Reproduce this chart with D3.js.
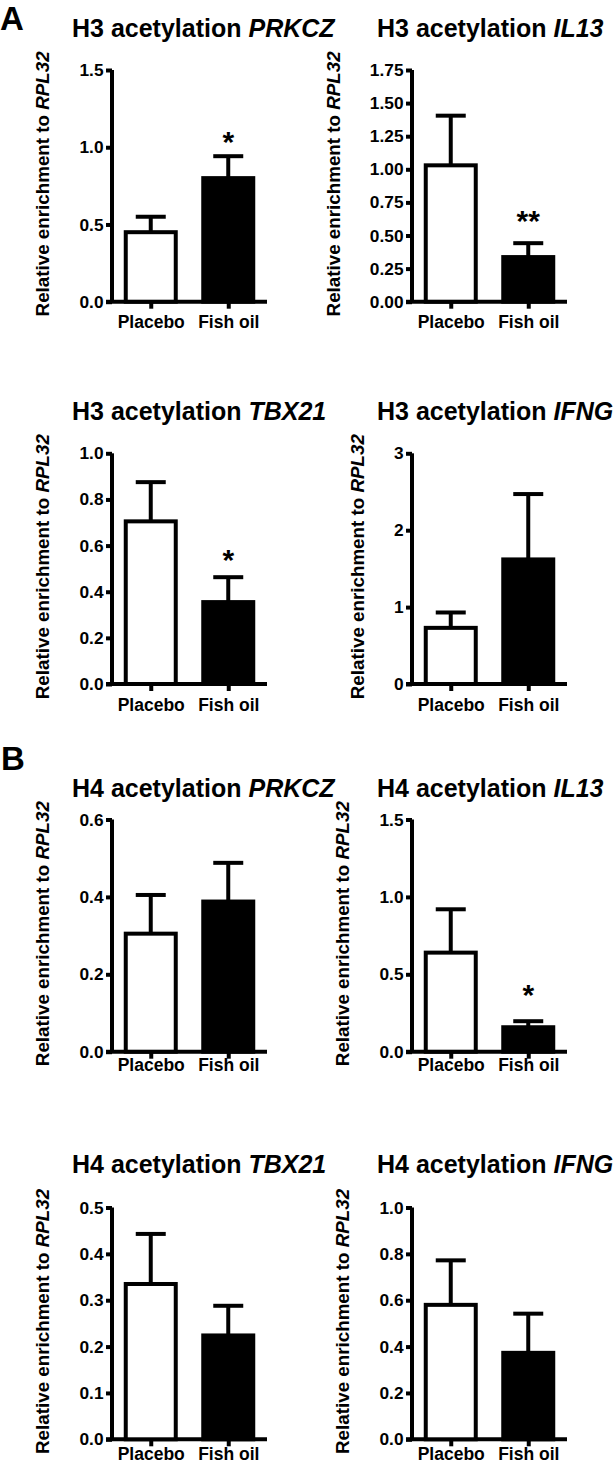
<!DOCTYPE html>
<html>
<head>
<meta charset="utf-8">
<script src="https://cdn.jsdelivr.net/npm/d3@7"></script>
<style>
  html, body { margin: 0; padding: 0; background: #fff; }
  svg { display: block; }
  text { font-family: Arial, "Liberation Sans", Helvetica, sans-serif; font-weight: bold; fill: #000; }
</style>
</head>
<body>
<script>
// ---------- data ----------
const groups = ["Placebo", "Fish oil"];
const histones = ["H3", "H3", "H3", "H3", "H4", "H4", "H4", "H4"];
const genes = ["PRKCZ", "IL13", "TBX21", "IFNG", "PRKCZ", "IL13", "TBX21", "IFNG"];
const placeboMean = [0.45, 1.03, 0.705, 0.73, 0.305, 0.64, 0.335, 0.58];
const placeboSEM  = [0.10, 0.375, 0.17, 0.20, 0.10, 0.28, 0.108, 0.192];
const fishOilMean = [0.80, 0.337, 0.355, 1.62, 0.388, 0.158, 0.224, 0.373];
const fishOilSEM  = [0.142, 0.105, 0.108, 0.85, 0.10, 0.039, 0.064, 0.169];
const yMax   = [1.5, 1.75, 1.0, 3, 0.6, 1.5, 0.5, 1.0];
const yStep  = [0.5, 0.25, 0.2, 1, 0.2, 0.5, 0.1, 0.2];
const yDecimals = [1, 2, 1, 0, 1, 1, 1, 1];
const sigLabel = ["*", "**", "*", "", "", "*", "", ""];
const sigValue = [1.08, 0.664, 0.568, null, null, 0.41, null, null];
const sectionLetters = ["A", "B"];
const yTitlePrefix = "Relative enrichment to ";
const yTitleGene = "RPL32";

// ---------- layout ----------
const W = 613, H = 1465;
const colAxisX = [112, 412];
const colTitleX = [72, 377];
const rowTop = [70, 453.3, 819.5, 1207.5];
const rowBottom = [301.7, 684, 1051.7, 1439.3];
const rowTitleY = [37, 420, 796.7, 1173.3];
const rowXLabelDy = [26.6, 27, 19.5, 20.7];
const letterPos = [{x: 0, y: 30}, {x: 1, y: 770}];
const plotW = 155;
const barW = 50;
const capW = 30;
const lw = 4;

const svg = d3.select("body").append("svg")
  .attr("width", W).attr("height", H);

sectionLetters.forEach((L, i) => {
  svg.append("text").attr("x", letterPos[i].x).attr("y", letterPos[i].y)
    .style("font-size", "33px").text(L);
});

genes.forEach((gene, i) => {
  const row = Math.floor(i / 2), col = i % 2;
  const x0 = colAxisX[col];
  const top = rowTop[row], bot = rowBottom[row];
  const g = svg.append("g");

  const y = d3.scaleLinear().domain([0, yMax[i]]).range([bot, top]);
  const x = d3.scalePoint().domain(groups).range([x0, x0 + plotW]).padding(0.5);

  // title
  const t = g.append("text").attr("x", colTitleX[col]).attr("y", rowTitleY[row])
    .style("font-size", "25px");
  t.append("tspan").text(histones[i] + " acetylation ");
  t.append("tspan").style("font-style", "italic").text(gene);

  // y axis
  const ticks = d3.range(0, yMax[i] + yStep[i] / 2, yStep[i]);
  const yAxis = d3.axisLeft(y).tickValues(ticks)
    .tickFormat(d3.format("." + yDecimals[i] + "f"))
    .tickSize(6).tickPadding(2.5).tickSizeOuter(0);
  const ya = g.append("g").attr("transform", `translate(${x0},0)`).call(yAxis);
  ya.select(".domain").attr("stroke", "#000").attr("stroke-width", lw)
    .attr("d", `M0,${top}V${bot}`);
  ya.selectAll(".tick line").attr("stroke", "#000").attr("stroke-width", lw);
  ya.selectAll(".tick text").style("font-size", "17.3px")
    .style("font-family", "Arial, 'Liberation Sans', sans-serif").style("font-weight", "bold");

  // x axis
  const xAxis = d3.axisBottom(x).tickSize(7).tickSizeOuter(0).tickPadding(0);
  const xa = g.append("g").attr("transform", `translate(0,${bot})`).call(xAxis);
  xa.select(".domain").attr("stroke", "#000").attr("stroke-width", lw)
    .attr("d", `M${x0 - 6},0H${x0 + plotW}`);
  xa.selectAll(".tick line").attr("stroke", "#000").attr("stroke-width", lw);
  xa.selectAll(".tick text").attr("y", rowXLabelDy[row]).attr("dy", null)
    .style("font-size", "17.5px")
    .style("font-family", "Arial, 'Liberation Sans', sans-serif").style("font-weight", "bold");

  // bars
  const means = [placeboMean[i], fishOilMean[i]];
  const sems = [placeboSEM[i], fishOilSEM[i]];
  const fills = ["#fff", "#000"];
  groups.forEach((grp, k) => {
    const cx = x(grp);
    g.append("line").attr("x1", cx).attr("x2", cx)
      .attr("y1", y(means[k])).attr("y2", y(means[k] + sems[k]))
      .attr("stroke", "#000").attr("stroke-width", lw);
    g.append("line").attr("x1", cx - capW / 2).attr("x2", cx + capW / 2)
      .attr("y1", y(means[k] + sems[k])).attr("y2", y(means[k] + sems[k]))
      .attr("stroke", "#000").attr("stroke-width", lw);
    g.append("rect").attr("x", cx - barW / 2).attr("width", barW)
      .attr("y", y(means[k])).attr("height", y(0) - y(means[k]))
      .attr("fill", fills[k]).attr("stroke", "#000").attr("stroke-width", lw);
  });

  // significance
  if (sigLabel[i]) {
    g.append("text").attr("x", x(groups[1])).attr("y", y(sigValue[i]) + 17)
      .attr("text-anchor", "middle").style("font-size", "30px").text(sigLabel[i]);
  }

  // y title
  const bb = ya.node().getBBox();
  const tx = x0 + bb.x - 30;
  const ty = (top + bot) / 2 - 2;
  const yt = g.append("text").attr("transform", `translate(${tx},${ty}) rotate(-90)`)
    .attr("text-anchor", "middle").style("font-size", "18.8px");
  yt.append("tspan").text(yTitlePrefix);
  yt.append("tspan").style("font-style", "italic").text(yTitleGene);
});
</script>
</body>
</html>
